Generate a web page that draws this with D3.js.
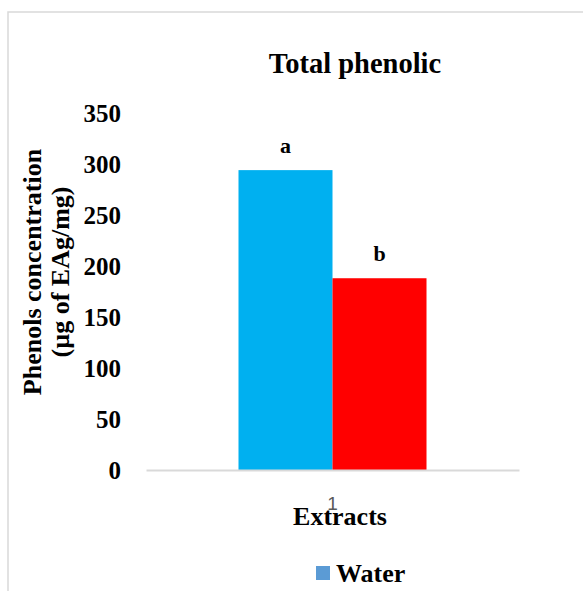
<!DOCTYPE html>
<html>
<head>
<meta charset="utf-8">
<script src="https://cdn.jsdelivr.net/npm/d3@7/dist/d3.min.js"></script>
<style>
  html, body { margin: 0; padding: 0; background: #fff; }
  svg { display: block; }
</style>
</head>
<body>
<svg id="chart" width="583" height="591"></svg>
<script>
// ---- data ----
const categories = ["1"];
const seriesNames = ["Water", "Series 2"];
const seriesValues = [294, 188];
const seriesColors = ["#00B0F0", "#FF0000"];
const letterLabels = ["a", "b"];
const yTicks = [0, 50, 100, 150, 200, 250, 300, 350];
const legendNames = ["Water"];
const legendColors = ["#5B9BD5"];

const svg = d3.select("#chart");
const serif = "'Liberation Serif', 'Times New Roman', serif";

// chart border
svg.append("rect")
  .attr("x", 8).attr("y", 12)
  .attr("width", 700).attr("height", 700)
  .attr("fill", "none").attr("stroke", "#d9d9d9").attr("stroke-width", 1.5);

const plot = { left: 146, right: 519, top: 113, bottom: 470 };

const y = d3.scaleLinear().domain([0, 350]).range([plot.bottom, plot.top]);
const x0 = d3.scaleBand().domain(categories)
  .range([plot.left, plot.right]).paddingInner(0).paddingOuter(0.492);
const x1 = d3.scaleBand().domain(seriesNames).range([0, x0.bandwidth()]).padding(0);

// y axis tick labels (no line)
const yAxis = d3.axisLeft(y).tickValues(yTicks).tickSize(0).tickPadding(0);
const gy = svg.append("g").attr("transform", `translate(121,0)`).call(yAxis);
gy.select(".domain").remove();
gy.selectAll("text")
  .attr("font-family", serif).attr("font-weight", "bold")
  .attr("font-size", 25).attr("fill", "#000").attr("dy", "0.34em");

// bars
const g = svg.append("g");
categories.forEach(cat => {
  seriesNames.forEach((s, i) => {
    g.append("rect")
      .attr("x", x0(cat) + x1(s))
      .attr("y", y(seriesValues[i]))
      .attr("width", x1.bandwidth())
      .attr("height", y(0) - y(seriesValues[i]))
      .attr("fill", seriesColors[i]);
    g.append("text")
      .attr("x", x0(cat) + x1(s) + x1.bandwidth() / 2)
      .attr("y", y(seriesValues[i]) - 17)
      .attr("text-anchor", "middle")
      .attr("font-family", serif).attr("font-weight", "bold")
      .attr("font-size", 22).attr("fill", "#000")
      .text(letterLabels[i]);
  });
});

// x axis baseline
const xAxis = d3.axisBottom(x0).tickSize(0).tickPadding(0);
const gx = svg.append("g").attr("transform", `translate(0,${plot.bottom})`).call(xAxis);
gx.select(".domain").attr("stroke", "#d9d9d9").attr("stroke-width", 2);
gx.selectAll("text")
  .attr("font-family", "'Liberation Sans', Arial, sans-serif")
  .attr("font-size", 19).attr("fill", "#595959")
  .attr("dy", 0).attr("y", 40);

// x axis title
svg.append("text")
  .attr("x", 340).attr("y", 525)
  .attr("text-anchor", "middle")
  .attr("font-family", serif).attr("font-weight", "bold")
  .attr("font-size", 26).attr("fill", "#000")
  .text("Extracts");

// y axis title
const yt = svg.append("text")
  .attr("transform", "translate(41,272) rotate(-90)")
  .attr("text-anchor", "middle")
  .attr("font-family", serif).attr("font-weight", "bold")
  .attr("font-size", 26).attr("fill", "#000");
yt.append("tspan").attr("x", 0).attr("y", 0).text("Phenols concentration");
yt.append("tspan").attr("x", 0).attr("y", 28).text("(µg of EAg/mg)");

// chart title
svg.append("text")
  .attr("x", 355).attr("y", 73)
  .attr("text-anchor", "middle")
  .attr("font-family", serif).attr("font-weight", "bold")
  .attr("font-size", 28.5).attr("fill", "#000")
  .text("Total phenolic");

// legend
legendNames.forEach((n, i) => {
  svg.append("rect")
    .attr("x", 316).attr("y", 566).attr("width", 14).attr("height", 14)
    .attr("fill", legendColors[i]);
  svg.append("text")
    .attr("x", 336).attr("y", 582)
    .attr("font-family", serif).attr("font-weight", "bold")
    .attr("font-size", 26).attr("fill", "#000")
    .text(n);
});
</script>
</body>
</html>
